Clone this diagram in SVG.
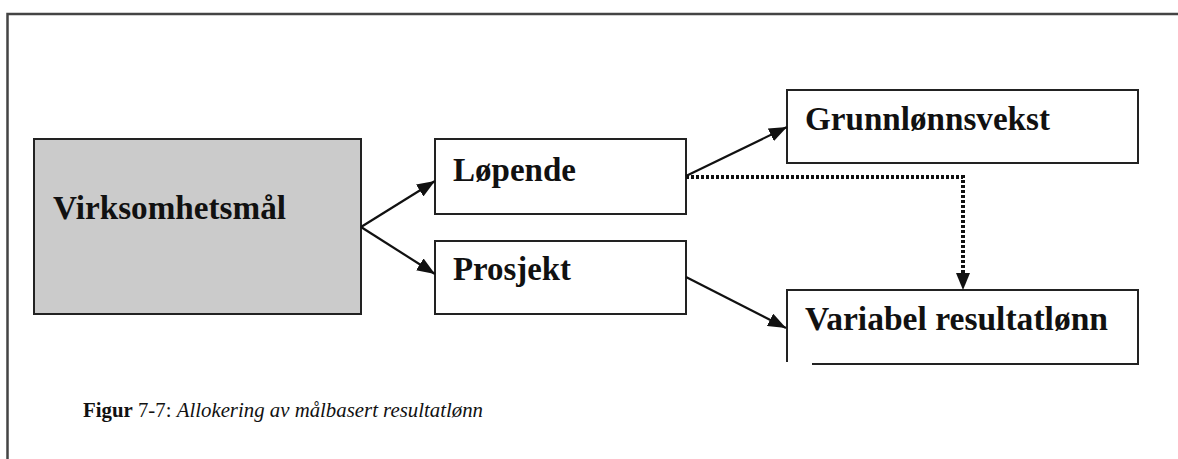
<svg xmlns="http://www.w3.org/2000/svg" width="1178" height="459" viewBox="0 0 1178 459">
<style>
.box{fill:#fff;stroke:#222;stroke-width:2}
.lbl{font-family:"Liberation Serif","DejaVu Serif",serif;font-weight:bold;font-size:33px;fill:#111}
.con{fill:none;stroke:#111;stroke-width:2.2}
.dot{fill:none;stroke:#111;stroke-width:4;stroke-dasharray:3 2}
.cap{font-family:"Liberation Serif","DejaVu Serif",serif;font-size:21px;fill:#111}
</style>
<defs>
<marker id="ah" viewBox="0 0 18 14" refX="18" refY="7" markerWidth="18" markerHeight="14" markerUnits="userSpaceOnUse" orient="auto">
<path d="M0,0 L18,7 L0,14 z" fill="#111"/>
</marker>
</defs>
<rect width="1178" height="459" fill="#fff"/>
<path d="M7.5,459 V14 H1178" fill="none" stroke="#444" stroke-width="2.5"/>
<g id="virksomhetsmal">
<rect x="34" y="139" width="327" height="175" fill="#cbcbcb" stroke="#222" stroke-width="2"/>
<text class="lbl" x="53" y="219" textLength="233" lengthAdjust="spacingAndGlyphs">Virksomhetsmål</text>
</g>
<g id="lopende">
<rect class="box" x="435" y="139" width="251" height="75"/>
<text class="lbl" x="453" y="181" textLength="123" lengthAdjust="spacingAndGlyphs">Løpende</text>
</g>
<g id="prosjekt">
<rect class="box" x="435" y="241" width="251" height="73"/>
<text class="lbl" x="453" y="280" textLength="118" lengthAdjust="spacingAndGlyphs">Prosjekt</text>
</g>
<g id="grunnlonnsvekst">
<rect class="box" x="787" y="90" width="351" height="73"/>
<text class="lbl" x="805" y="130" textLength="245" lengthAdjust="spacingAndGlyphs">Grunnlønnsvekst</text>
</g>
<g id="variabel">
<path d="M787,362 V290 H1138 V364 H812" fill="none" stroke="#222" stroke-width="2"/>
<text class="lbl" x="805" y="330" textLength="303" lengthAdjust="spacingAndGlyphs">Variabel resultatlønn</text>
</g>
<g id="connectors">
<path class="con" d="M361,227 L435,181" marker-end="url(#ah)"/>
<path class="con" d="M361,227 L435,274" marker-end="url(#ah)"/>
<path class="con" d="M686,176 L787,127" marker-end="url(#ah)"/>
<path class="con" d="M686,277 L786,328" marker-end="url(#ah)"/>
<path class="dot" d="M686,177 H963 V274"/>
<path d="M956,273 L970,273 L963,290 z" fill="#111"/>
</g>
<g id="caption">
<text class="cap" x="83" y="417" textLength="400" lengthAdjust="spacingAndGlyphs"><tspan font-weight="bold">Figur</tspan> 7-7: <tspan font-style="italic">Allokering av målbasert resultatlønn</tspan></text>
</g>
</svg>
